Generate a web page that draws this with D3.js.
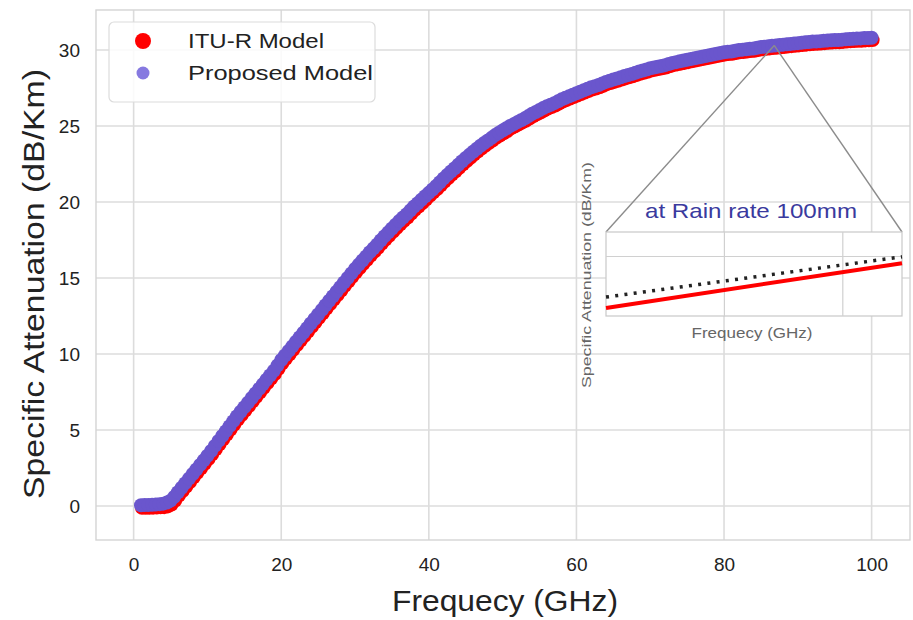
<!DOCTYPE html>
<html>
<head>
<meta charset="utf-8">
<script src="https://cdnjs.cloudflare.com/ajax/libs/d3/7.8.5/d3.min.js"></script>
<style>
  body { margin: 0; background: #fff; }
  svg { font-family: "Liberation Sans", Arial, sans-serif; }
</style>
</head>
<body>
<div id="vis"></div>
<script>
// declare constants
const FRAME_WIDTH = 913
const FRAME_HEIGHT = 620
const PLOT = {left: 96, right: 910, top: 10, bottom: 540}

// data (frequency in GHz, every 0.5 GHz; attenuation in dB/Km)
const freq = d3.range(1, 100.5, 0.5)
const ituModel = [
  -0.12, -0.12, -0.12, -0.11, -0.10, -0.09, -0.08, -0.03, 0.10, 0.36,
  0.68, 0.98, 1.28, 1.58, 1.88, 2.18, 2.48, 2.78, 3.08, 3.40,
  3.73, 4.06, 4.38, 4.70, 5.03, 5.36, 5.68, 5.98, 6.28, 6.58,
  6.88, 7.18, 7.48, 7.78, 8.08, 8.38, 8.68, 9.03, 9.38, 9.68,
  9.98, 10.28, 10.58, 10.88, 11.18, 11.48, 11.78, 12.08, 12.38, 12.68,
  12.98, 13.28, 13.58, 13.88, 14.18, 14.48, 14.78, 15.08, 15.38, 15.66,
  15.93, 16.20, 16.48, 16.73, 16.98, 17.26, 17.53, 17.78, 18.03, 18.28,
  18.53, 18.76, 18.98, 19.23, 19.48, 19.70, 19.93, 20.16, 20.40, 20.63,
  20.85, 21.10, 21.35, 21.58, 21.80, 22.02, 22.25, 22.48, 22.70, 22.90,
  23.12, 23.32, 23.52, 23.70, 23.87, 24.04, 24.22, 24.37, 24.52, 24.67,
  24.84, 24.96, 25.09, 25.22, 25.34, 25.49, 25.64, 25.76, 25.89, 26.02,
  26.15, 26.25, 26.35, 26.47, 26.60, 26.70, 26.80, 26.90, 27.00, 27.10,
  27.20, 27.30, 27.40, 27.47, 27.55, 27.65, 27.75, 27.83, 27.90, 27.97,
  28.05, 28.13, 28.20, 28.27, 28.35, 28.43, 28.50, 28.57, 28.65, 28.70,
  28.75, 28.80, 28.85, 28.93, 29.00, 29.05, 29.10, 29.15, 29.20, 29.25,
  29.30, 29.35, 29.40, 29.45, 29.50, 29.55, 29.60, 29.65, 29.70, 29.73,
  29.75, 29.80, 29.85, 29.87, 29.90, 29.93, 29.95, 30.00, 30.05, 30.07,
  30.10, 30.13, 30.15, 30.17, 30.20, 30.23, 30.25, 30.27, 30.30, 30.33,
  30.35, 30.37, 30.40, 30.41, 30.43, 30.45, 30.47, 30.49, 30.50, 30.51,
  30.53, 30.55, 30.57, 30.59, 30.60, 30.61, 30.63, 30.64, 30.65
]
const proposedModel = [
  0.05, 0.06, 0.07, 0.08, 0.10, 0.12, 0.15, 0.22, 0.35, 0.60,
  0.90, 1.20, 1.50, 1.80, 2.10, 2.40, 2.70, 3.00, 3.30, 3.62,
  3.95, 4.28, 4.60, 4.92, 5.25, 5.58, 5.90, 6.20, 6.50, 6.80,
  7.10, 7.40, 7.70, 8.00, 8.30, 8.60, 8.90, 9.25, 9.60, 9.90,
  10.20, 10.50, 10.80, 11.10, 11.40, 11.70, 12.00, 12.30, 12.60, 12.90,
  13.20, 13.50, 13.80, 14.10, 14.40, 14.70, 15.00, 15.30, 15.60, 15.88,
  16.15, 16.42, 16.70, 16.95, 17.20, 17.48, 17.75, 18.00, 18.25, 18.50,
  18.75, 18.98, 19.20, 19.45, 19.70, 19.92, 20.15, 20.38, 20.60, 20.82,
  21.05, 21.30, 21.55, 21.78, 22.00, 22.22, 22.45, 22.68, 22.90, 23.10,
  23.30, 23.50, 23.70, 23.88, 24.05, 24.22, 24.40, 24.55, 24.70, 24.85,
  25.00, 25.12, 25.25, 25.38, 25.50, 25.65, 25.80, 25.92, 26.05, 26.18,
  26.30, 26.40, 26.50, 26.62, 26.75, 26.85, 26.95, 27.05, 27.15, 27.25,
  27.35, 27.45, 27.55, 27.62, 27.70, 27.80, 27.90, 27.98, 28.05, 28.12,
  28.20, 28.28, 28.35, 28.42, 28.50, 28.58, 28.65, 28.72, 28.80, 28.85,
  28.90, 28.95, 29.00, 29.08, 29.15, 29.20, 29.25, 29.30, 29.35, 29.40,
  29.45, 29.50, 29.55, 29.60, 29.65, 29.70, 29.75, 29.80, 29.85, 29.88,
  29.90, 29.95, 30.00, 30.02, 30.05, 30.08, 30.10, 30.15, 30.20, 30.22,
  30.25, 30.28, 30.30, 30.32, 30.35, 30.38, 30.40, 30.42, 30.45, 30.48,
  30.50, 30.52, 30.55, 30.56, 30.58, 30.60, 30.62, 30.64, 30.65, 30.66,
  30.68, 30.70, 30.72, 30.74, 30.75, 30.76, 30.78, 30.79, 30.80
]
const xTicks = [0, 20, 40, 60, 80, 100]
const yTicks = [0, 5, 10, 15, 20, 25, 30]
const seriesNames = ["ITU-R Model", "Proposed Model"]

// inset (zoom at around 87 GHz)
const zoomPoint = [86.8, 30.3]
const insetFreq = [86.0, 88.0]
const insetITU = [30.183, 30.311]
const insetProposed = [30.214, 30.329]
const insetXTicks = [86.8, 87.6]
const insetYTicks = [30.33]

const svg = d3.select('#vis')
              .append('svg')
              .attr('width', FRAME_WIDTH)
              .attr('height', FRAME_HEIGHT)

const x = d3.scaleLinear()
            .domain([-5.1, 105.2])
            .range([PLOT.left, PLOT.right])

const y = d3.scaleLinear()
            .domain([-2.24, 32.63])
            .range([PLOT.bottom, PLOT.top])

// grid
svg.append('g')
   .selectAll('line')
   .data(xTicks)
   .enter()
   .append('line')
    .attr('x1', d => x(d)).attr('x2', d => x(d))
    .attr('y1', PLOT.top).attr('y2', PLOT.bottom)
    .attr('stroke', '#dcdcdc').attr('stroke-width', 1.6)

svg.append('g')
   .selectAll('line')
   .data(yTicks)
   .enter()
   .append('line')
    .attr('x1', PLOT.left).attr('x2', PLOT.right)
    .attr('y1', d => y(d)).attr('y2', d => y(d))
    .attr('stroke', '#dcdcdc').attr('stroke-width', 1.6)

// frame
svg.append('rect')
   .attr('x', PLOT.left).attr('y', PLOT.top)
   .attr('width', PLOT.right - PLOT.left)
   .attr('height', PLOT.bottom - PLOT.top)
   .attr('fill', 'none')
   .attr('stroke', '#d4d4d4')
   .attr('stroke-width', 1.4)

// x axis
const xAxis = svg.append('g')
   .attr('transform', 'translate(0,' + PLOT.bottom + ')')
   .call(d3.axisBottom(x).tickValues(xTicks).tickSize(0).tickPadding(18))
xAxis.select('.domain').remove()
xAxis.selectAll('text').attr('font-size', '19px').attr('fill', '#222')
     .attr('font-family', '"Liberation Sans", Arial, sans-serif')

// y axis
const yAxis = svg.append('g')
   .attr('transform', 'translate(' + PLOT.left + ',0)')
   .call(d3.axisLeft(y).tickValues(yTicks).tickSize(0).tickPadding(16))
yAxis.select('.domain').remove()
yAxis.selectAll('text').attr('font-size', '19px').attr('fill', '#222')
     .attr('font-family', '"Liberation Sans", Arial, sans-serif')

// axis titles
svg.append('text')
   .attr('x', 505).attr('y', 611)
   .attr('text-anchor', 'middle')
   .attr('font-size', '29px').attr('fill', '#222')
   .attr('textLength', 226).attr('lengthAdjust', 'spacingAndGlyphs')
   .text('Frequecy (GHz)')

svg.append('text')
   .attr('transform', 'translate(44,' + y(14.6) + ') rotate(-90)')
   .attr('text-anchor', 'middle')
   .attr('font-size', '29px').attr('fill', '#222')
   .attr('textLength', 430).attr('lengthAdjust', 'spacingAndGlyphs')
   .text('Specific Attenuation (dB/Km)')

// data points
svg.append('g')
   .selectAll('circle')
   .data(freq)
   .enter()
   .append('circle')
    .attr('cx', (d, i) => x(d) + 1)
    .attr('cy', (d, i) => y(ituModel[i]))
    .attr('r', 7)
    .attr('fill', '#ff0000')

svg.append('g')
   .selectAll('circle')
   .data(freq)
   .enter()
   .append('circle')
    .attr('cx', (d, i) => x(d))
    .attr('cy', (d, i) => y(proposedModel[i]))
    .attr('r', 7)
    .attr('fill', '#6a56cd')

// inset
const ix = d3.scaleLinear().domain(insetFreq).range([606, 902])
const iy = d3.scaleLinear().domain([30.16, 30.40]).range([316, 232])

const zoomLines = svg.append('g')
zoomLines.append('line')
   .attr('x1', x(zoomPoint[0])).attr('y1', y(zoomPoint[1]))
   .attr('x2', ix(insetFreq[0])).attr('y2', iy.range()[1])
   .attr('stroke', '#8c8c8c').attr('stroke-width', 1.4)
zoomLines.append('line')
   .attr('x1', x(zoomPoint[0])).attr('y1', y(zoomPoint[1]))
   .attr('x2', ix(insetFreq[1])).attr('y2', iy.range()[1])
   .attr('stroke', '#8c8c8c').attr('stroke-width', 1.4)

svg.append('rect')
   .attr('x', 606).attr('y', 232).attr('width', 296).attr('height', 84)
   .attr('fill', '#fff')
   .attr('stroke', '#c8c8c8').attr('stroke-width', 1.2)

svg.append('g')
   .selectAll('line')
   .data(insetXTicks)
   .enter()
   .append('line')
    .attr('x1', d => ix(d)).attr('x2', d => ix(d))
    .attr('y1', 232).attr('y2', 316)
    .attr('stroke', '#d0d0d0').attr('stroke-width', 1.2)

svg.append('g')
   .selectAll('line')
   .data(insetYTicks)
   .enter()
   .append('line')
    .attr('x1', 606).attr('x2', 902)
    .attr('y1', d => iy(d)).attr('y2', d => iy(d))
    .attr('stroke', '#d0d0d0').attr('stroke-width', 1.2)

const insetLine = d3.line()
   .x((d, i) => ix(insetFreq[i]))
   .y(d => iy(d))

svg.append('path')
   .attr('d', insetLine(insetITU))
   .attr('fill', 'none')
   .attr('stroke', '#ff0000').attr('stroke-width', 4)

svg.append('path')
   .attr('d', insetLine(insetProposed))
   .attr('fill', 'none')
   .attr('stroke', '#222')
   .attr('stroke-width', 3.5)
   .attr('stroke-dasharray', '3 6.3')

svg.append('text')
   .attr('x', 751).attr('y', 218)
   .attr('text-anchor', 'middle')
   .attr('font-size', '21px').attr('fill', '#3a3a9e')
   .attr('textLength', 212).attr('lengthAdjust', 'spacingAndGlyphs')
   .text('at Rain rate 100mm')

svg.append('text')
   .attr('x', 752).attr('y', 338)
   .attr('text-anchor', 'middle')
   .attr('font-size', '15px').attr('fill', '#666')
   .attr('textLength', 121).attr('lengthAdjust', 'spacingAndGlyphs')
   .text('Frequecy (GHz)')

svg.append('text')
   .attr('transform', 'translate(591,275) rotate(-90)')
   .attr('text-anchor', 'middle')
   .attr('font-size', '13px').attr('fill', '#666')
   .attr('textLength', 226).attr('lengthAdjust', 'spacingAndGlyphs')
   .text('Specific Attenuation (dB/Km)')

// legend
const legend = svg.append('g')
legend.append('rect')
   .attr('x', 109).attr('y', 22).attr('width', 266).attr('height', 80)
   .attr('rx', 5)
   .attr('fill', '#fff').attr('fill-opacity', 0.85)
   .attr('stroke', '#dcdcdc').attr('stroke-width', 1.2)

const legendColors = ['#ff0000', '#8679e0']
const legendR = [8, 6.5]
const legendLen = [136, 185]
legend.selectAll('circle')
   .data(seriesNames)
   .enter()
   .append('circle')
    .attr('cx', 143)
    .attr('cy', (d, i) => 41 + i * 32)
    .attr('r', (d, i) => legendR[i])
    .attr('fill', (d, i) => legendColors[i])

legend.selectAll('text')
   .data(seriesNames)
   .enter()
   .append('text')
    .attr('x', 188)
    .attr('y', (d, i) => 48 + i * 32)
    .attr('font-size', '21px').attr('fill', '#222')
    .attr('textLength', (d, i) => legendLen[i])
    .attr('lengthAdjust', 'spacingAndGlyphs')
    .text(d => d)
</script>
</body>
</html>
